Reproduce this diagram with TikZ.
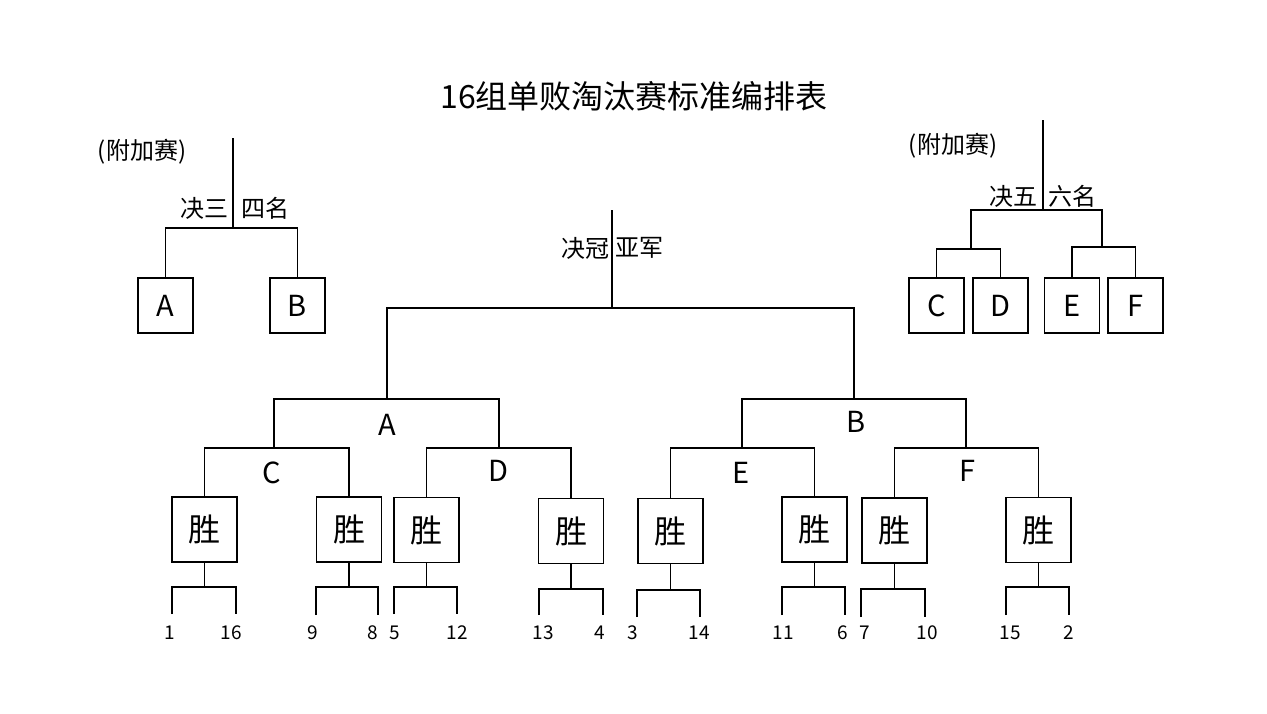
\documentclass[tikz,border=0pt]{standalone}
\usepackage{fontspec}
\setmainfont{Noto Sans CJK SC}
\begin{document}
\begin{tikzpicture}[x=0.5pt,y=-0.5pt, line width=0.8pt,
  win/.style={draw, minimum size=32.5pt, inner sep=0pt, font=\fontsize{16}{16}\selectfont},
  seed/.style={draw, minimum size=27.5pt, inner sep=0pt, font=\fontsize{14.5}{14.5}\selectfont},
  grp/.style={inner sep=0pt, font=\fontsize{14.5}{14.5}\selectfont},
  num/.style={inner sep=0pt, font=\fontsize{9.5}{9.5}\selectfont},
  lbl/.style={inner sep=0pt, font=\fontsize{12}{12}\selectfont},
  ttl/.style={inner sep=0pt, font=\fontsize{16}{16}\selectfont}]
\useasboundingbox (0,0) rectangle (1267,713);

% title
\node[ttl] (title) at (634,96) {16组单败淘汰赛标准编排表};

% ---------- 3rd/4th place ----------
\node[lbl] (extraL) at (142,152) {(附加赛)};
\coordinate (t34) at (233,138);
\coordinate (j34) at (233,228);
\node[seed] (pA) at (165.5,305.5) {A};
\node[seed] (pB) at (297.5,305.5) {B};
\draw (pA.north) |- (j34) -| (pB.north);
\draw (j34) -- (t34);
\node[lbl, anchor=east] (l3a) at (229,208) {决三};
\node[lbl, anchor=west] (l3b) at (241,208) {四名};

% ---------- 5th/6th place ----------
\node[lbl] (extraR) at (953,146) {(附加赛)};
\coordinate (t56) at (1043,120);
\coordinate (j56) at (1043,210);
\coordinate (jCD) at (971,249);
\coordinate (jEF) at (1102,247);
\node[seed] (pC) at (936.5,305.5) {C};
\node[seed] (pD) at (1000.5,305.5) {D};
\node[seed] (pE) at (1072,305.5) {E};
\node[seed] (pF) at (1135.5,305.5) {F};
\draw (pC.north) |- (jCD) -| (pD.north);
\draw (pE.north) |- (jEF) -| (pF.north);
\draw (jCD) |- (j56) -| (jEF);
\draw (j56) -- (t56);
\node[lbl, anchor=east] (l5a) at (1038,196) {决五};
\node[lbl, anchor=west] (l5b) at (1048,196) {六名};

% ---------- main bracket ----------
\coordinate (tTop) at (612,210);
\coordinate (jTop) at (612,308);
\node[lbl, anchor=east] (lfa) at (610,248) {决冠};
\node[lbl, anchor=west] (lfb) at (615,248) {亚军};

\coordinate (jA) at (387,399);
\coordinate (jB) at (854,399);
\coordinate (jC) at (274,448);
\coordinate (jD) at (499,448);
\coordinate (jE) at (742,448);
\coordinate (jF) at (966,448);

\draw (jTop) -- (tTop);
\draw (jA) |- (jTop) -| (jB);
\draw (jC) |- (jA) -| (jD);
\draw (jE) |- (jB) -| (jF);

\node[grp] (gA) at (387,425) {A};
\node[grp] (gB) at (856,422) {B};
\node[grp] (gC) at (272,473) {C};
\node[grp] (gD) at (498,471) {D};
\node[grp] (gE) at (741,473) {E};
\node[grp] (gF) at (967,471) {F};

% winner boxes
\node[win] (w1) at (204.5,529.5) {胜};
\node[win] (w2) at (349,529.5) {胜};
\node[win] (w3) at (426.5,530) {胜};
\node[win] (w4) at (571,531) {胜};
\node[win] (w5) at (670.5,531) {胜};
\node[win] (w6) at (814.5,529.5) {胜};
\node[win] (w7) at (894.5,530.5) {胜};
\node[win] (w8) at (1038.5,530) {胜};

\draw (w1.north) |- (jC) -| (w2.north);
\draw (w3.north) |- (jD) -| (w4.north);
\draw (w5.north) |- (jE) -| (w6.north);
\draw (w7.north) |- (jF) -| (w8.north);

% first-round legs
\coordinate (k1) at (204.5,587);
\coordinate (k2) at (349,587);
\coordinate (k3) at (426.5,587);
\coordinate (k4) at (571,589);
\coordinate (k5) at (670.5,590);
\coordinate (k6) at (814.5,587);
\coordinate (k7) at (894.5,589);
\coordinate (k8) at (1038.5,587);

\coordinate (e1) at (172,614);  \coordinate (e16) at (236,614);
\coordinate (e9) at (316,615);  \coordinate (e8) at (378,615);
\coordinate (e5) at (394,614);  \coordinate (e12) at (457,614);
\coordinate (e13) at (539,615); \coordinate (e4) at (603,615);
\coordinate (e3) at (637,617);  \coordinate (e14) at (700,617);
\coordinate (e11) at (782,615); \coordinate (e6) at (845,615);
\coordinate (e7) at (861,617);  \coordinate (e10) at (925,617);
\coordinate (e15) at (1006,615);\coordinate (e2) at (1069,615);

\draw (w1.south) -- (k1); \draw (e1) |- (k1) -| (e16);
\draw (w2.south) -- (k2); \draw (e9) |- (k2) -| (e8);
\draw (w3.south) -- (k3); \draw (e5) |- (k3) -| (e12);
\draw (w4.south) -- (k4); \draw (e13) |- (k4) -| (e4);
\draw (w5.south) -- (k5); \draw (e3) |- (k5) -| (e14);
\draw (w6.south) -- (k6); \draw (e11) |- (k6) -| (e6);
\draw (w7.south) -- (k7); \draw (e7) |- (k7) -| (e10);
\draw (w8.south) -- (k8); \draw (e15) |- (k8) -| (e2);

% seed numbers
\node[num] (n1) at (170,633) {1};
\node[num] (n16) at (231,633) {16};
\node[num] (n9) at (313,633) {9};
\node[num] (n8) at (373,633) {8};
\node[num] (n5) at (395,633) {5};
\node[num] (n12) at (457,633) {12};
\node[num] (n13) at (543,633) {13};
\node[num] (n4) at (600,633) {4};
\node[num] (n3) at (633,633) {3};
\node[num] (n14) at (699,633) {14};
\node[num] (n11) at (783,633) {11};
\node[num] (n6) at (843,633) {6};
\node[num] (n7) at (865,633) {7};
\node[num] (n10) at (927,633) {10};
\node[num] (n15) at (1010,633) {15};
\node[num] (n2) at (1069,633) {2};
\end{tikzpicture}
\end{document}
